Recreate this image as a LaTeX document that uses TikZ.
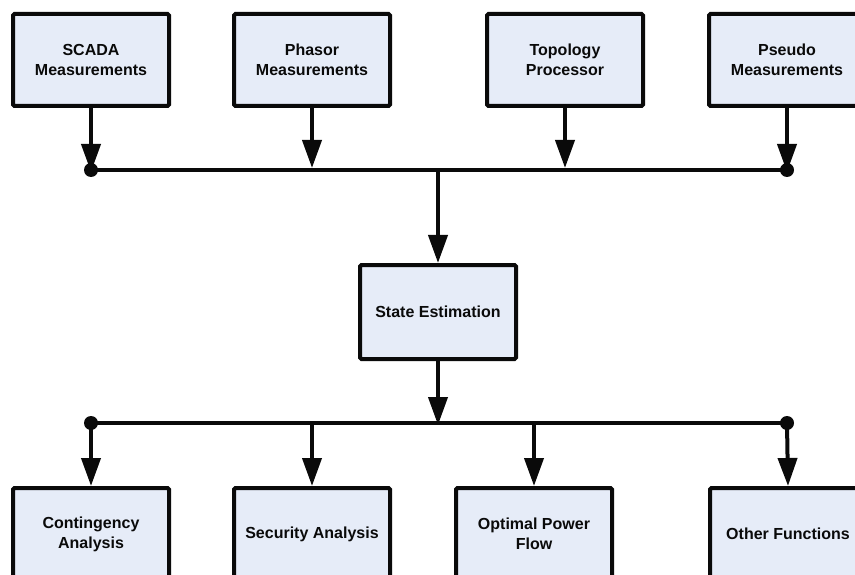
\documentclass[tikz,border=0pt]{standalone}
\usepackage{fontspec}
\setmainfont{Liberation Sans}
\usetikzlibrary{arrows.meta}
\definecolor{boxfill}{RGB}{230,236,248}
\definecolor{ink}{RGB}{10,10,10}
\begin{document}
\begin{tikzpicture}[x=1pt,y=-1pt,
  box/.style={draw=ink, line width=4pt, fill=boxfill, minimum width=156pt, minimum height=92pt,
    rounded corners=1.5pt, font=\bfseries\fontsize{16}{20}\selectfont, text=ink, align=center, inner sep=0pt},
  link/.style={draw=ink, line width=4pt},
  flow/.style={link, -{Triangle[length=28pt,width=19pt]}},
  junction/.style={circle, fill=ink, inner sep=0pt, minimum size=14pt}]
\useasboundingbox (0,0) rectangle (855,575);
\clip (0,0) rectangle (855,575);
% top row
\node[box] (scada) at (91,60) {SCADA\\Measurements};
\node[box] (phasor) at (312,60) {Phasor\\Measurements};
\node[box] (topo) at (565,60) {Topology\\Processor};
\node[box] (pseudo) at (787,60) {Pseudo\\Measurements};
% state estimation
\node[box, minimum height=94pt] (se) at (438,312) {State Estimation};
% bottom row
\node[box] (cont) at (91,534) {Contingency\\Analysis};
\node[box] (sec) at (312,534) {Security Analysis};
\node[box] (opf) at (534,534) {Optimal Power\\Flow};
\node[box] (other) at (788,534) {Other Functions};
% bus coordinates
\coordinate (tl) at (91,170);
\coordinate (tr) at (787,170);
\coordinate (tm) at (438,170);
\coordinate (bl) at (91,423);
\coordinate (br) at (787,423);
\coordinate (bm) at (438,423);
% top bus
\draw[link] (tl) -- (tr);
\draw[flow] (scada.south) -- ([yshift=-2pt]tl);
\draw[flow] (phasor.south) -- (312,168);
\draw[flow] (topo.south) -- (565,168);
\draw[flow] (pseudo.south) -- ([yshift=-2pt]tr);
\node[junction] (jtl) at (tl) {};
\node[junction] (jtr) at (tr) {};
\draw[flow] (tm) -- (se.north);
% bottom bus
\draw[flow] (se.south) -- ([yshift=-2pt]bm);
\draw[link] (bl) -- (br);
\draw[flow] (bl) -- (cont.north);
\draw[flow] (312,423) -- (sec.north);
\draw[flow] (534,423) -- (opf.north);
\draw[flow] (br) -- (other.north);
\node[junction] (jbl) at (bl) {};
\node[junction] (jbr) at (br) {};
\end{tikzpicture}
\end{document}
